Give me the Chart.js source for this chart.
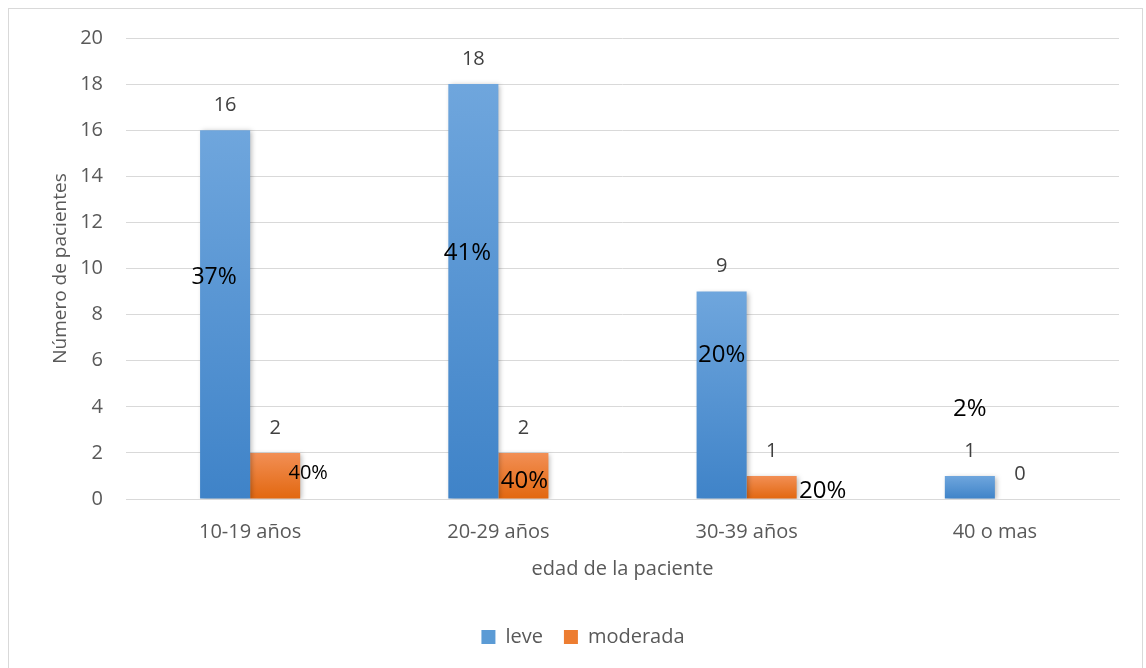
<!DOCTYPE html>
<html>
<head>
<meta charset="utf-8">
<script src="https://cdn.jsdelivr.net/npm/chart.js@4"></script>
<style>
    body { margin: 0; background: #fff; }
    #box { position: absolute; left: 8px; top: 8px; width: 1133px; height: 662px; border: 1px solid #d9d9d9; }
    #chart { position: absolute; left: 0; top: 0; }
</style>
</head>
<body>
<div id="box"><canvas id="chart" width="1133" height="662"></canvas></div>
<script>
var categories = ["10-19 años", "20-29 años", "30-39 años", "40 o mas"];
var leve = [16, 18, 9, 1];
var moderada = [2, 2, 1, 0];
var levePct = ["37%", "41%", "20%", "2%"];
var moderadaPct = ["40%", "40%", "20%", ""];

// where the percent labels sit (y in axis units, dx in px from bar centre, font size)
var pctPlace = [
    [{ y: 9.6, dx: -11, size: 23 }, { y: 10.65, dx: -6, size: 24 }, { y: 6.26, dx: 0, size: 24 }, { y: 3.9, dx: 0, size: 24 }],
    [{ y: 1.13, dx: 33, size: 20 }, { y: 0.78, dx: 1, size: 24 }, { y: 0.35, dx: 51, size: 24 }, null]
];
var pctText = [levePct, moderadaPct];

window.addEventListener("load", init);

function barGradient(top, bottom) {
    return function (context) {
        var chart = context.chart;
        if (!chart.chartArea || context.type !== "data") return bottom;
        var y = chart.scales.y;
        var yTop = y.getPixelForValue(context.raw);
        var yBase = y.getPixelForValue(0);
        if (!isFinite(yTop) || yBase - yTop < 1) return bottom;
        var g = chart.ctx.createLinearGradient(0, yTop, 0, yBase);
        g.addColorStop(0, top);
        g.addColorStop(1, bottom);
        return g;
    };
}

var shadowPlugin = {
    id: "shadow",
    beforeDatasetsDraw: function (chart) {
        var c = chart.ctx;
        c.save();
        c.shadowColor = "rgba(0,0,0,0.28)";
        c.shadowBlur = 5;
        c.shadowOffsetX = 2;
        c.shadowOffsetY = 1;
    },
    afterDatasetsDraw: function (chart) {
        chart.ctx.restore();
    }
};

var labelPlugin = {
    id: "labels",
    afterDatasetsDraw: function (chart) {
        var c = chart.ctx;
        var y = chart.scales.y;
        c.save();
        c.textAlign = "center";
        c.textBaseline = "middle";
        chart.data.datasets.forEach(function (ds, di) {
            var meta = chart.getDatasetMeta(di);
            meta.data.forEach(function (bar, i) {
                // value above the bar
                c.fillStyle = "#404040";
                c.font = "20px 'Open Sans'";
                c.fillText(String(ds.data[i]), bar.x, bar.y - 25);
                var p = pctPlace[di][i];
                var t = pctText[di][i];
                if (p && t) {
                    c.fillStyle = "#000";
                    c.font = p.size + "px 'Open Sans'";
                    c.fillText(t, bar.x + p.dx, y.getPixelForValue(p.y));
                }
            });
        });
        c.restore();
    }
};

function init() {
    Chart.defaults.font.family = "'Open Sans'";
    Chart.defaults.color = "#595959";

    const data = {
        labels: categories,
        datasets: [
            {
                label: "leve",
                data: leve,
                backgroundColor: barGradient("#6fa6dd", "#3f83c8"),
                categoryPercentage: 0.4032,
                barPercentage: 1
            },
            {
                label: "moderada",
                data: moderada,
                backgroundColor: barGradient("#f28f55", "#e2670f"),
                categoryPercentage: 0.4032,
                barPercentage: 1
            }
        ]
    };

    const config = {
        type: "bar",
        data: data,
        plugins: [shadowPlugin, labelPlugin],
        options: {
            responsive: false,
            animation: false,
            layout: { padding: { left: 38, right: 23, top: 29, bottom: 14 } },
            plugins: {
                tooltip: { enabled: false },
                legend: {
                    position: "bottom",
                    labels: {
                        boxWidth: 14,
                        boxHeight: 14,
                        padding: 21,
                        font: { size: 20 },
                        generateLabels: function (chart) {
                            var cols = ["#5b9bd5", "#ed7d31"];
                            return chart.data.datasets.map(function (ds, i) {
                                return { text: ds.label, fillStyle: cols[i], strokeStyle: cols[i], lineWidth: 0, datasetIndex: i, fontColor: "#595959" };
                            });
                        }
                    }
                }
            },
            scales: {
                x: {
                    grid: { display: false },
                    border: { color: "#d9d9d9", width: 1 },
                    ticks: { font: { size: 20 }, padding: 13 },
                    title: { display: true, text: "edad de la paciente", font: { size: 20 }, padding: { top: 0, bottom: 25 } }
                },
                y: {
                    min: 0,
                    max: 20,
                    grid: { color: "#d9d9d9", drawTicks: false },
                    border: { display: false },
                    ticks: { stepSize: 2, font: { size: 20 }, padding: 23 },
                    title: { display: true, text: "Número de pacientes", font: { size: 19 }, padding: { top: 2, bottom: 0 } },
                    afterFit: function (scale) {
                        scale.width = 79;
                        scale.paddingTop = 12;
                    }
                }
            }
        }
    };
    const chart = new Chart(document.getElementById("chart"), config);
}
</script>
</body>
</html>
